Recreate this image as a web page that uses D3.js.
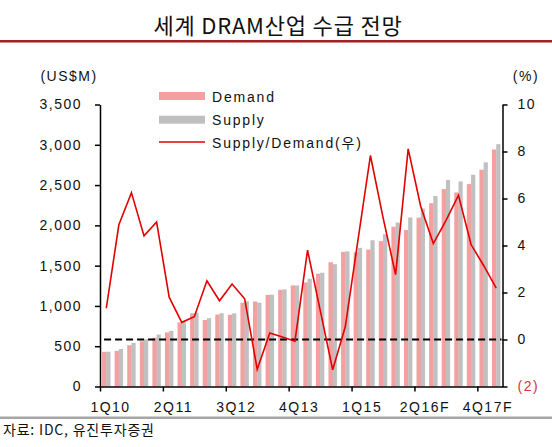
<!DOCTYPE html>
<html>
<head>
<meta charset="utf-8">
<script src="https://cdn.jsdelivr.net/npm/d3@7"></script>
<style>
  body { margin: 0; background: #fff; }
  text { font-family: "Liberation Sans", Arial, "Noto Sans CJK KR", sans-serif; }
</style>
</head>
<body>
<script>
// quarters 1Q10 .. 4Q17F
const quarters = ['1Q10','2Q10','3Q10','4Q10','1Q11','2Q11','3Q11','4Q11',
  '1Q12','2Q12','3Q12','4Q12','1Q13','2Q13','3Q13','4Q13',
  '1Q14','2Q14','3Q14','4Q14','1Q15','2Q15','3Q15','4Q15',
  '1Q16F','2Q16F','3Q16F','4Q16F','1Q17F','2Q17F','3Q17F','4Q17F'];
// US$M
const demand = [430, 442, 512, 562, 604, 671, 796, 908, 825, 893, 890, 1040,
  1054, 1137, 1200, 1254, 1292, 1400, 1542, 1671, 1665, 1700, 1804, 1983,
  1942, 2096, 2275, 2450, 2408, 2512, 2691, 2942];
const supply = [432, 466, 542, 585, 645, 690, 802, 917, 848, 910, 908, 1058,
  1040, 1140, 1206, 1254, 1337, 1412, 1518, 1678, 1721, 1815, 1890, 2035,
  2098, 2210, 2364, 2564, 2545, 2628, 2782, 3008];
// Supply/Demand (%), right axis
const ratio = [1.33, 4.88, 6.25, 4.41, 5.0, 1.8, 0.73, 0.97, 2.5, 1.65, 2.36, 1.73,
  -1.27, 0.28, 0.11, -0.07, 3.8, 1.26, -1.29, 0.54, 4.2, 7.83, 5.2, 2.76,
  8.11, 5.66, 4.08, 5.06, 6.14, 4.04, 3.15, 2.19];
// category axis labels (index -> text) as printed on the chart
const labelIdx = [0, 5, 10, 15, 20, 25, 30];
const labelText = ['1Q10', '2Q11', '3Q12', '4Q13', '1Q15', '2Q16F', '4Q17F'];
const leftTicks = [0, 500, 1000, 1500, 2000, 2500, 3000, 3500];
const rightTicks = [-2, 0, 2, 4, 6, 8, 10];
const seriesNames = ['Demand', 'Supply', 'Supply/Demand(우)'];

const W = 552, H = 447;
const plot = { left: 100, right: 502.5, top: 104.5, bottom: 386.5 };
const pink = '#f4a0a0', gray = '#c0c0c0', red = '#e00000';

const svg = d3.select('body').append('svg')
  .attr('width', W).attr('height', H);

// title + underline
svg.append('text')
  .attr('x', 278).attr('y', 34)
  .attr('text-anchor', 'middle')
  .style('font-family', '"Noto Sans CJK KR", sans-serif')
  .style('font-size', '22px')
  .style('letter-spacing', '0.8px')
  .attr('fill', '#111')
  .text('세계 DRAM산업 수급 전망');
svg.append('line')
  .attr('x1', 0).attr('x2', W).attr('y1', 41.3).attr('y2', 41.3)
  .attr('stroke', '#a31f24').attr('stroke-width', 2.5);

// scales
const x = d3.scaleBand()
  .domain(d3.range(quarters.length))
  .range([plot.left, plot.right])
  .paddingInner(0.33).paddingOuter(0.165);
const xEdge = d3.scaleLinear().domain([0, quarters.length]).range([plot.left, plot.right]);
const yL = d3.scaleLinear().domain([0, 3500]).range([plot.bottom, plot.top]);
const yR = d3.scaleLinear().domain([-2, 10]).range([plot.bottom, plot.top]);
const bw = x.bandwidth();

// bars
svg.append('g').selectAll('rect')
  .data(demand).enter().append('rect')
  .attr('x', (d, i) => x(i))
  .attr('y', d => yL(d))
  .attr('width', bw / 2 + 0.3)
  .attr('height', d => yL(0) - yL(d))
  .attr('fill', pink);
svg.append('g').selectAll('rect')
  .data(supply).enter().append('rect')
  .attr('x', (d, i) => x(i) + bw / 2)
  .attr('y', d => yL(d))
  .attr('width', bw / 2)
  .attr('height', d => yL(0) - yL(d))
  .attr('fill', gray);

// zero line (right axis)
svg.append('line')
  .attr('x1', x(0) + 2).attr('x2', plot.right - 1)
  .attr('y1', yR(0)).attr('y2', yR(0))
  .attr('stroke', '#000').attr('stroke-width', 2)
  .attr('stroke-dasharray', '7,4');

// ratio line
const line = d3.line()
  .x((d, i) => x(i) + bw / 2)
  .y(d => yR(d));
svg.append('path')
  .datum(ratio)
  .attr('d', line)
  .attr('fill', 'none')
  .attr('stroke', red)
  .attr('stroke-width', 1.6);

// axes
function styleAxis(g) {
  g.selectAll('path, line').attr('stroke', '#000').attr('stroke-width', 1.5);
  g.selectAll('text').attr('fill', '#111')
    .style('font-size', '14px').style('letter-spacing', '1.5px');
}
svg.append('g')
  .attr('transform', `translate(${plot.left},0)`)
  .call(d3.axisLeft(yL).tickValues(leftTicks).tickSize(5).tickSizeOuter(0)
    .tickPadding(13).tickFormat(d3.format(',')))
  .call(styleAxis);

const gR = svg.append('g')
  .attr('transform', `translate(${plot.right},0)`)
  .call(d3.axisRight(yR).tickValues(rightTicks).tickSize(5).tickSizeOuter(0)
    .tickPadding(10).tickFormat(d => d < 0 ? `(${-d})` : d))
  .call(styleAxis);
gR.selectAll('.tick text').filter(d => d < 0).attr('fill', '#d0363a');

svg.append('g')
  .attr('transform', `translate(0,${plot.bottom})`)
  .call(d3.axisBottom(xEdge).tickValues(labelIdx).tickSize(5).tickSizeOuter(0)
    .tickFormat(''))
  .call(styleAxis);
svg.append('g')
  .attr('transform', `translate(${bw / 2},${plot.bottom})`)
  .call(d3.axisBottom(x).tickValues(labelIdx).tickSize(0).tickPadding(15.5)
    .tickFormat((d, i) => labelText[i]))
  .call(styleAxis)
  .call(g => g.select('.domain').remove());

// axis units
svg.append('text').attr('x', 69).attr('y', 81).attr('text-anchor', 'middle')
  .style('font-size', '14px').style('letter-spacing', '1.5px').attr('fill', '#111')
  .text('(US$M)');
svg.append('text').attr('x', 526).attr('y', 81).attr('text-anchor', 'middle')
  .style('font-size', '14px').style('letter-spacing', '1.5px').attr('fill', '#111')
  .text('(%)');

// legend
const legend = svg.append('g').attr('transform', 'translate(159,0)');
const legY = [96, 119.7, 142];
seriesNames.forEach((name, i) => {
  if (i < 2) {
    legend.append('rect')
      .attr('x', 0).attr('y', legY[i] - 4).attr('width', 46).attr('height', 8)
      .attr('fill', i === 0 ? pink : gray);
  } else {
    legend.append('line')
      .attr('x1', 0).attr('x2', 46).attr('y1', legY[i]).attr('y2', legY[i])
      .attr('stroke', red).attr('stroke-width', 1.5);
  }
  legend.append('text')
    .attr('x', 53).attr('y', legY[i] + 5.5)
    .style('font-size', '14px').style('letter-spacing', '1.8px')
    .attr('fill', '#111')
    .text(name);
});

// footer
svg.append('line')
  .attr('x1', 0).attr('x2', W).attr('y1', 417.8).attr('y2', 417.8)
  .attr('stroke', '#a6a6a6').attr('stroke-width', 2.5);
svg.append('text')
  .attr('x', 3).attr('y', 434.5)
  .style('font-family', '"Noto Sans CJK KR", sans-serif')
  .style('font-size', '14px')
  .style('letter-spacing', '0.8px')
  .attr('fill', '#111')
  .text('자료: IDC, 유진투자증권');
</script>
</body>
</html>
